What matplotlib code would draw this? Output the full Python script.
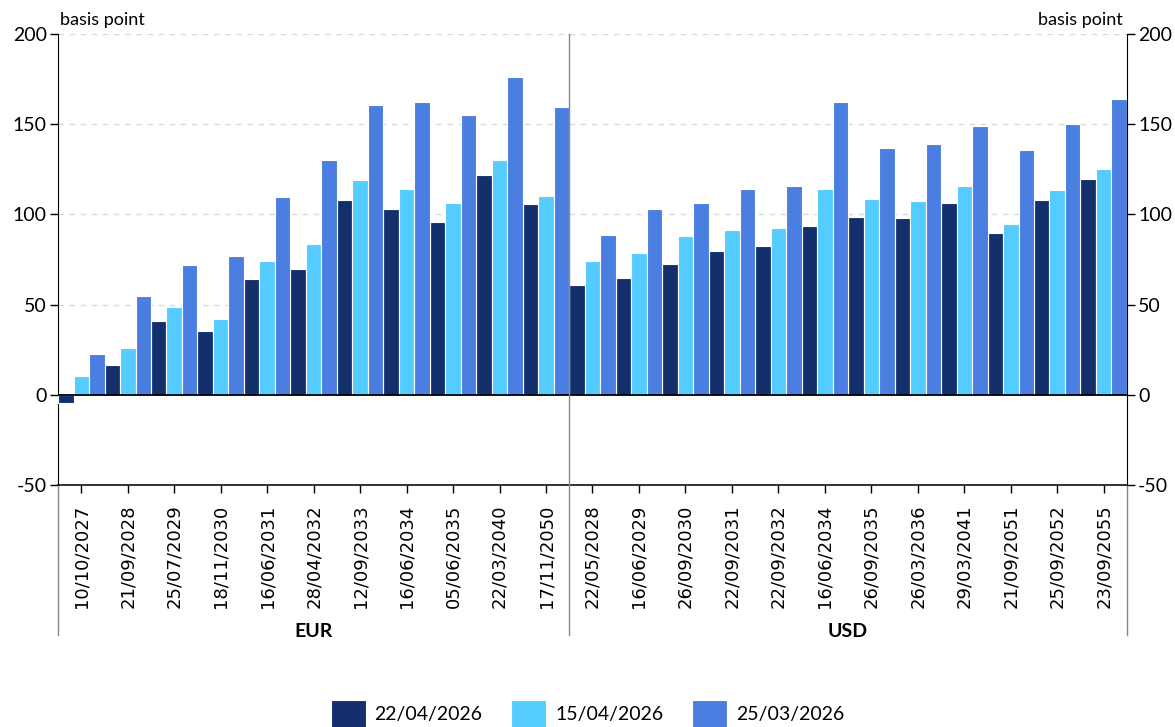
import matplotlib.pyplot as plt
import matplotlib.transforms as mtransforms
import numpy as np

plt.rcParams['font.family'] = ['Lato', 'DejaVu Sans']
plt.rcParams['axes.unicode_minus'] = False

eur_dates = ['10/10/2027', '21/09/2028', '25/07/2029', '18/11/2030', '16/06/2031', '28/04/2032',
             '12/09/2033', '16/06/2034', '05/06/2035', '22/03/2040', '17/11/2050']
usd_dates = ['22/05/2028', '16/06/2029', '26/09/2030', '22/09/2031', '22/09/2032', '16/06/2034',
             '26/09/2035', '26/03/2036', '29/03/2041', '21/09/2051', '25/09/2052', '23/09/2055']
series_names = ['22/04/2026', '15/04/2026', '25/03/2026']

s_220426 = [-4.5, 16.3, 40.9, 35.5, 64.3, 69.9, 107.9, 102.8, 95.7, 122.0, 105.5,
            60.8, 64.9, 72.6, 79.9, 82.6, 93.3, 98.3, 97.8, 106.5, 89.5, 108.1, 119.4]
s_150426 = [10.2, 25.9, 48.6, 42.0, 74.1, 83.4, 118.9, 114.2, 106.5, 129.9, 110.0,
            73.9, 78.4, 88.2, 91.5, 92.2, 114.2, 108.3, 107.2, 115.9, 94.8, 113.5, 125.3]
s_250326 = [22.7, 54.5, 72.1, 76.7, 109.6, 130.3, 160.6, 162.1, 155.1, 176.2, 159.7,
            88.4, 102.8, 106.1, 113.9, 115.9, 162.1, 137.0, 139.2, 148.8, 135.9, 150.1, 164.0]

colors = ['#14306C', '#55CCFF', '#4A7EE0']

labels = eur_dates + usd_dates
x = np.arange(len(labels))
w = 1 / 3

fig = plt.figure(figsize=(11.75, 7.27), dpi=100)
ax = fig.add_axes([0.0494, 0.3329, 0.9097, 0.6203])

for i, (vals, c, name) in enumerate(zip([s_220426, s_150426, s_250326], colors, series_names)):
    ax.bar(x + (i - 1) * w, vals, width=w, color=c, edgecolor='white', linewidth=0.8,
           label=name, zorder=3)

ax.set_xlim(-0.5, len(labels) - 0.5)
ax.set_ylim(-50, 200)
ax.set_yticks([-50, 0, 50, 100, 150, 200])
for v in [50, 100, 150, 200]:
    ax.axhline(v, color='#d9d9d9', lw=1, ls=(0, (4, 4)), zorder=1)
ax.axhline(0, color='black', lw=1.3, zorder=4)

ax.set_xticks(x)
ax.set_xticklabels(labels, rotation=90, family='DejaVu Sans', fontsize=13)
ax.tick_params(axis='x', direction='out', length=6, width=1, pad=8)
ax.tick_params(axis='y', direction='out', length=6, width=1, labelsize=14,
               left=True, right=True, labelleft=True, labelright=True, pad=2)

ax.spines['top'].set_visible(False)
ax.spines['left'].set_color('black')
ax.spines['right'].set_color('black')
ax.spines['bottom'].set_color('#222222')
ax.spines['bottom'].set_linewidth(1.3)

# group separators running down past the tick labels
trans = mtransforms.blended_transform_factory(ax.transData, ax.transAxes)
ax.plot([-0.5, -0.5], [0, -0.333], color='#888888', lw=1, transform=trans, clip_on=False)
ax.plot([22.5, 22.5], [0, -0.333], color='#888888', lw=1, transform=trans, clip_on=False)
ax.plot([10.5, 10.5], [1, -0.333], color='#888888', lw=1, transform=trans, clip_on=False, zorder=5)

ax.text(5, -0.326, 'EUR', transform=trans, ha='center', va='center', fontsize=14, fontweight='bold')
ax.text(16.5, -0.326, 'USD', transform=trans, ha='center', va='center', fontsize=14, fontweight='bold')

ax.text(0.002, 1.031, 'basis point', transform=ax.transAxes, ha='left', va='center', fontsize=13)
ax.text(0.996, 1.031, 'basis point', transform=ax.transAxes, ha='right', va='center', fontsize=13)

fig.legend(loc='center', bbox_to_anchor=(0.5, 0.018), ncol=3, frameon=False, fontsize=14,
           handlelength=1.8, handleheight=1.9, handletextpad=0.45, columnspacing=1.5)

fig.savefig('out.png', dpi=100)
